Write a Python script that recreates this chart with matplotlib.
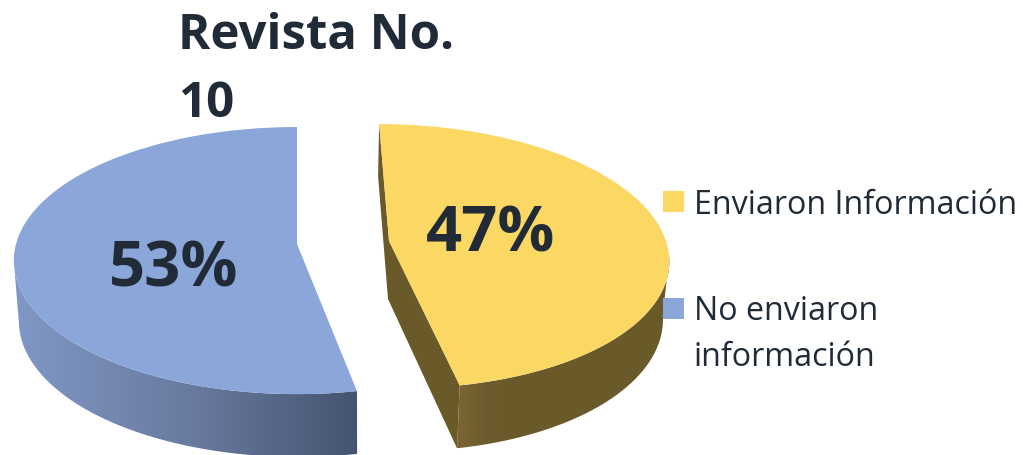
import numpy as np
import matplotlib
matplotlib.use("Agg")
import matplotlib.pyplot as plt
from matplotlib.transforms import Transform
from matplotlib.path import Path
from matplotlib.patches import PathPatch, Rectangle
from matplotlib.colors import LinearSegmentedColormap

title = "Revista No.\n10"
labels = ["Enviaron Información", "No enviaron\ninformación"]
values = [47, 53]
colors = ["#FBD764", "#8BA6D8"]
INK = "#212B38"
FONT = "Open Sans"

W, H = 1023, 456


class Persp(Transform):
    """Unit-disc pie coordinates to pixel coordinates, seen in perspective."""
    input_dims = output_dims = 2
    is_separable = False
    has_inverse = False

    def __init__(self, x0, y0, rx, ry, k, shear=0.0):
        super().__init__()
        self.p = (x0, y0, rx, ry, k, shear)

    def transform_non_affine(self, xy):
        xy = np.asarray(xy, float)
        x0, y0, rx, ry, k, s = self.p
        w = 1 + k * xy[:, 1]
        return np.column_stack([x0 + (rx * xy[:, 0] + s * xy[:, 1]) / w,
                                y0 - ry * xy[:, 1] / w])


# top face and bottom rim of each slice
top_y = Persp(389, 242, 277, 130.4, 0.115, -11)
low_y = Persp(388, 300, 272, 136, 0.107, -11)
top_b = Persp(297, 245, 281, 131.5, 0.124)
low_b = Persp(298, 305, 277, 134, 0.124)

fig = plt.figure(figsize=(W / 100, H / 100), dpi=100, facecolor="white")
ax = fig.add_axes([0, 0, 1, 1])
wedges, _ = ax.pie(values, colors=colors, startangle=90, counterclock=False,
                   wedgeprops=dict(linewidth=0))
ax.set_aspect("auto")
ax.set_xlim(0, W)
ax.set_ylim(H, 0)
ax.axis("off")
ax.set_autoscale_on(False)


def lower_arc(wedge, k):
    """Part of the slice's rim that faces the viewer."""
    t = np.radians(np.linspace(wedge.theta1, wedge.theta2, 400))
    t = t[np.sin(t) <= -k]
    return np.column_stack([np.cos(t), np.sin(t)])


def wall(wedge, top, low, stops, zorder):
    a = lower_arc(wedge, top.p[4])
    poly = np.vstack([top.transform_non_affine(a), low.transform_non_affine(a)[::-1]])
    patch = PathPatch(Path(np.vstack([poly, poly[0]])), fc="none", ec="none")
    ax.add_patch(patch)
    cmap = LinearSegmentedColormap.from_list("g", stops)
    x0, x1 = poly[:, 0].min(), poly[:, 0].max()
    im = ax.imshow(np.linspace(0, 1, 256)[None, :], cmap=cmap, aspect="auto",
                   extent=(x0, x1, poly[:, 1].max(), poly[:, 1].min()), zorder=zorder)
    im.set_clip_path(patch)


wall(wedges[0], top_y, low_y,
     [(0, "#7B6535"), (0.14, "#6C5B2C"), (0.25, "#6A5A2A"), (1, "#6A5A2A")], 1)
wall(wedges[1], top_b, low_b,
     [(0, "#8098C6"), (0.55, "#67789C"), (1, "#44536F")], 1)

# cut face of the yellow slice, built from its start and end angles
th = np.radians([wedges[0].theta2, wedges[0].theta1])
rim = np.column_stack([np.cos(th), np.sin(th)])
centre = np.zeros((1, 2))
face = np.vstack([top_y.transform_non_affine(rim[:1]),
                  low_y.transform_non_affine(rim[:1]),
                  low_y.transform_non_affine(centre),
                  low_y.transform_non_affine(rim[1:]),
                  top_y.transform_non_affine(rim[1:]),
                  top_y.transform_non_affine(centre)])
ax.fill(face[:, 0], face[:, 1], color="#6A5A2A", lw=0, zorder=1.5)

for w, t in zip(wedges, (top_y, top_b)):
    w.set_transform(t + ax.transData)
    w.set_zorder(2)

ax.text(178, 117, title, fontsize=35.4, fontweight="bold", color=INK, family=FONT,
        va="baseline", ha="left", linespacing=1.52, zorder=3)
ax.text(491, 252, f"{values[0]}%", fontsize=45.5, fontweight="bold", color=INK,
        family=FONT, ha="center", va="baseline", zorder=3)
ax.text(174, 287, f"{values[1]}%", fontsize=45.5, fontweight="bold", color=INK,
        family=FONT, ha="center", va="baseline", zorder=3)

for c, lab, sq_y, base in zip(colors, labels, (192, 299), (214, 366)):
    ax.add_patch(Rectangle((663, sq_y), 21, 21, fc=c, ec="none", zorder=3))
    ax.text(694, base, lab, fontsize=23.2, color=INK, family=FONT,
            ha="left", va="baseline", linespacing=1.52, zorder=3)

fig.savefig("out.png", dpi=100, facecolor="white")
